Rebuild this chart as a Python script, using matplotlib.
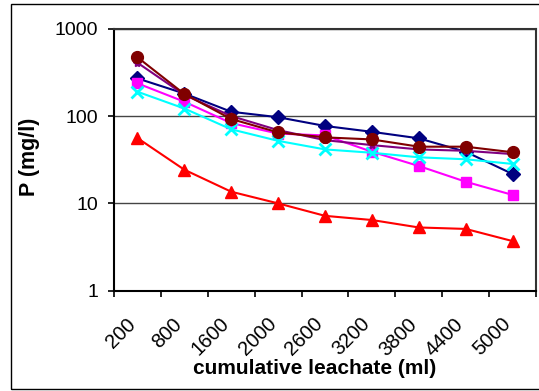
import matplotlib.pyplot as plt
from matplotlib.patches import Rectangle
import numpy as np

plt.rcParams['font.family'] = ['Liberation Sans', 'DejaVu Sans']

# cumulative leachate categories (ml)
leachate = ['200', '800', '1600', '2000', '2600', '3200', '3800', '4400', '5000']

# P concentration (mg/l) for each column
navy_vals = [270, 181, 112, 97, 77, 66, 55.6, 39, 21.7]
magenta_vals = [237, 146, 83, 63, 60, 39, 26.8, 17.7, 12.5]
red_vals = [56, 24.3, 13.6, 10, 7.2, 6.45, 5.3, 5.1, 3.7]
cyan_vals = [190, 122, 70.5, 52, 41.5, 38, 33.7, 32, 28.3]
purple_vals = [408, 175, 100, 69, 53, 46.5, 41.5, 40, 36.7]
brown_vals = [471, 179, 92.5, 65, 57, 54, 44.6, 44.6, 38.5]

fig = plt.figure(figsize=(5.39, 3.91), dpi=100)
ax = fig.add_axes([0.2115, 0.2565, 0.783, 0.670])

# outer chart frame like the spreadsheet border
fig.patches.append(Rectangle((11 / 539, 2 / 391), 1.0, 385 / 391,
                             transform=fig.transFigure, fill=False,
                             edgecolor='black', linewidth=1.0))

x = np.arange(len(leachate))
series = [
    (navy_vals, '#000080', 'D', 7.5),
    (magenta_vals, '#FF00FF', 's', 7.5),
    (red_vals, '#FF0000', '^', 8.5),
    (cyan_vals, '#00FFFF', 'x', 8),
    (purple_vals, '#800080', '*', 6),
    (brown_vals, '#800000', 'o', 8.5),
]
for vals, col, mk, ms in series:
    ax.plot(x, vals, color=col, marker=mk, markersize=ms, linewidth=1.5,
            markeredgewidth=2 if mk == 'x' else 1, markeredgecolor=col)

ax.set_yscale('log')
ax.set_ylim(1, 1000)
ax.set_xlim(-0.5, len(leachate) - 0.5)
ax.yaxis.grid(True, which='major', color='#444444', linewidth=1)
ax.set_axisbelow(True)
ax.set_yticks([1, 10, 100, 1000])
ax.set_yticklabels(['1', '10', '100', '1000'])
ax.minorticks_off()
ax.tick_params(axis='y', direction='out', length=4.5, width=1.2,
               labelsize=14, pad=7)

# ticks between categories, labels under category centres
ax.set_xticks(np.arange(len(leachate) + 1) - 0.5)
ax.set_xticklabels([])
ax.set_xticks(x - 0.25, minor=True)
ax.set_xticklabels(leachate, minor=True, rotation=45, ha='right',
                   va='top', rotation_mode='anchor', fontsize=14.5)
ax.tick_params(axis='x', which='major', direction='out', length=4.5,
               width=1.2)
ax.tick_params(axis='x', which='minor', length=0, pad=17)

for side in ['left', 'bottom']:
    ax.spines[side].set_linewidth(1.5)
for side in ['top', 'right']:
    ax.spines[side].set_color('#333333')
    ax.spines[side].set_linewidth(1.5)

ax.set_xlabel('cumulative leachate (ml)', fontsize=15, fontweight='bold')
ax.xaxis.set_label_coords(0.476, -0.262)
ax.set_ylabel('P (mg/l)', fontsize=15.5, fontweight='bold')
ax.yaxis.set_label_coords(-0.175, 0.51)

fig.savefig('out.png', dpi=100)
